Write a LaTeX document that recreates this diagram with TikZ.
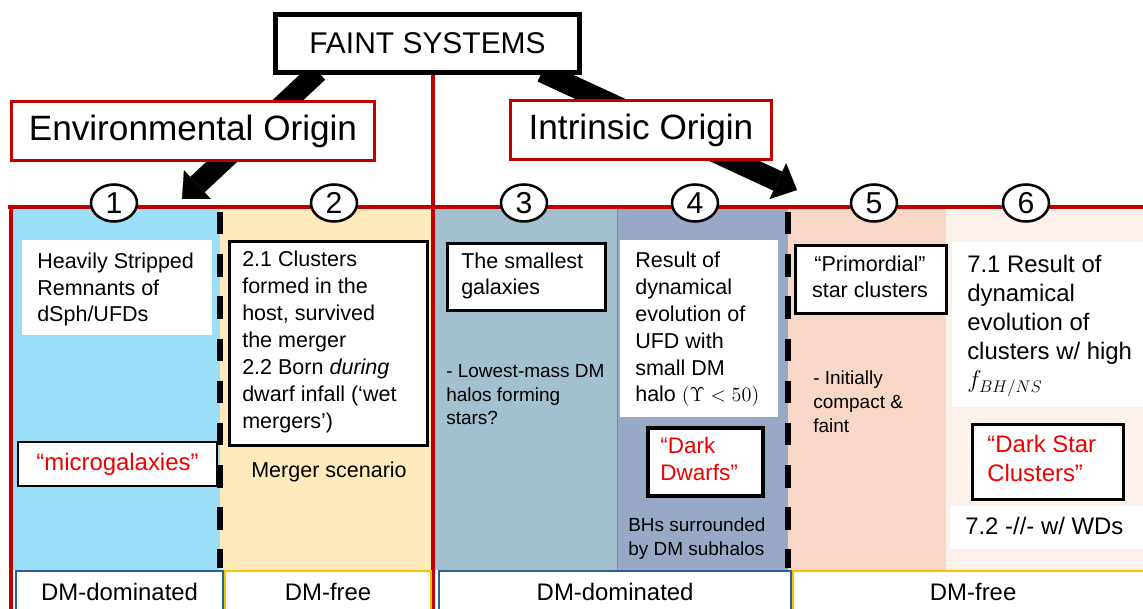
\documentclass[tikz,border=0pt]{standalone}
\usepackage{fontspec}
\setmainfont{Liberation Sans}
\usetikzlibrary{arrows.meta,shapes.geometric}

\pgfdeclarelayer{bg}
\pgfsetlayers{bg,main}

\definecolor{faintred}{RGB}{192,0,0}
\definecolor{quotered}{RGB}{238,0,0}
\definecolor{envblue}{RGB}{155,222,247}
\definecolor{mergeryellow}{RGB}{254,234,187}
\definecolor{galgrey}{RGB}{163,192,206}
\definecolor{dwarfgrey}{RGB}{153,168,196}
\definecolor{primpeach}{RGB}{248,215,199}
\definecolor{dscpeach}{RGB}{253,241,235}
\definecolor{dmblue}{RGB}{46,95,152}
\definecolor{dmgold}{RGB}{255,192,0}

\newcommand\setfs[2]{\fontsize{#1}{#2}\selectfont}

% multi-line texts sit on the baseline of their last line
\tikzset{
  boxsize/.style 2 args={minimum width=#1*0.025cm, minimum height=#2*0.025cm},
  txt/.style={anchor=base west, align=left, inner sep=0pt, font=\setfs{15.3}{19.1}},
  note/.style={txt, font=\setfs{13.5}{17}},
  bigtxt/.style={txt, font=\setfs{17}{20.6}},
  quoted/.style={text=quotered},
  card/.style={draw, line width=2pt, fill=white, inner sep=0pt},
  blank/.style={fill=white, inner sep=0pt},
  headbox/.style={draw, line width=3.5pt, fill=white, inner sep=0pt, font=\setfs{21.3}{25}},
  origin/.style={draw=faintred, line width=2.2pt, fill=white, inner sep=0pt, font=\setfs{25}{30}},
  numdisc/.style={ellipse, draw, line width=1.8pt, fill=white, inner sep=0pt, boxsize={46}{37}, font=\setfs{21.5}{25}},
  dmlabel/.style={line width=1.6pt, fill=white, anchor=north west, inner sep=0pt, font=\setfs{17}{20}},
  redline/.style={faintred, line width=2.8pt},
  split/.style={line width=4pt, dash pattern=on 16pt off 14pt},
  bigarrow/.style={line width=15pt, -{Triangle[length=15pt,width=28pt,line width=0.1pt]}},
}

\begin{document}
\begin{tikzpicture}[x=0.025cm, y=-0.025cm]
\useasboundingbox (0,0) rectangle (1143,609);

% headings
\node[headbox, boxsize={304}{58}] (title) at (427.5,43.5) {FAINT SYSTEMS};
\node[origin, boxsize={363}{59}] (env) at (193,131) {Environmental Origin};
\node[origin, boxsize={261}{59}] (intr) at (641,130) {Intrinsic Origin};

% numbered columns
\foreach \cx/\n in {114/1,334/2,524/3,695/4,874/5,1026/6}
  \node[numdisc] (c\n) at (\cx,203) {\n};

% column 1
\node[blank, anchor=north west, boxsize={190}{95}] (box1) at (22,240) {};
\node[txt] (txt1) at (37,322) {Heavily Stripped\\Remnants of\\dSph/UFDs};
\node[card, boxsize={199}{44}, font=\setfs{17}{20}, text=quotered] (micro) at (117.5,464) {“microgalaxies”};

% column 2
\node[card, anchor=north west, boxsize={198}{204}] (box2) at (228,240) {};
\node[txt] (txt2) at (242,428) {2.1 Clusters\\formed in the\\host, survived\\the merger\\2.2 Born \textit{during}\\dwarf infall (‘wet\\mergers’)};
\node[txt, anchor=base] (merger) at (329,477) {Merger scenario};

% column 3
\node[card, anchor=north west, boxsize={158}{67}] (box3) at (446,242) {};
\node[txt] (txt3) at (461,295) {The smallest\\galaxies};
\node[note] (note3) at (446,425) {- Lowest-mass DM\\halos forming\\stars?};

% column 4
\node[blank, anchor=north west, boxsize={158}{177}] (box4) at (620,240) {};
\node[txt] (txt4) at (635,402) {Result of\\dynamical\\evolution of\\UFD with\\small DM\\halo $(\Upsilon<50)$};
\node[card, line width=2.5pt, anchor=north west, boxsize={115}{68}] (dwarfbox) at (646,426) {};
\node[txt, quoted, font=\setfs{16}{19.2}] (dwarftxt) at (660,480) {“Dark\\Dwarfs”};
\node[note] (note4) at (628,555) {BHs surrounded\\by DM subhalos};

% column 5
\node[card, anchor=north west, boxsize={151}{68}] (box5) at (794,244) {};
\node[txt, anchor=base, align=center] (txt5) at (870,298) {“Primordial”\\star clusters};
\node[note] (note5) at (813,432) {- Initially\\compact \&\\faint};

% column 6
\node[blank, anchor=north west, boxsize={200}{165}] (box6) at (952,242) {};
\node[bigtxt] (txt6) at (967,388) {7.1 Result of\\dynamical\\evolution of\\clusters w/ high\\$f_{BH/NS}$};
\node[card, anchor=north west, boxsize={151}{75}] (dscbox) at (971,423) {};
\node[bigtxt, quoted] (dsctxt) at (987,481) {“Dark Star\\Clusters”};
\node[blank, anchor=north west, boxsize={200}{43}] (box7) at (950,506) {};
\node[bigtxt] (txt7) at (965,534) {7.2 -//- w/ WDs};

% DM content along the bottom
\node[dmlabel, draw=dmblue, boxsize={207}{42}] (dm1) at (15,570) {DM-dominated};
\node[dmlabel, draw=dmgold, boxsize={206}{42}] (free1) at (224,570) {DM-free};
\node[dmlabel, draw=dmblue, boxsize={352}{42}] (dm2) at (438,570) {DM-dominated};
\node[dmlabel, draw=dmgold, boxsize={360}{42}] (free2) at (792,570) {DM-free};

\coordinate (envtip) at (182,199);
\coordinate (intrtip) at (797,190);

\begin{pgfonlayer}{bg}
  % column backgrounds
  \fill[envblue] (12,207) rectangle (220,570);
  \fill[mergeryellow] (220,207) rectangle (433,570);
  \fill[galgrey] (433,207) rectangle (617,570);
  \fill[dwarfgrey] (617,207) rectangle (788,570);
  \fill[primpeach] (788,207) rectangle (946,570);
  \fill[dscpeach] (946,207) rectangle (1143,570);
  \draw[dwarfgrey!80!black, thin] (617,207) -- (617,570);

  % red frame
  \draw[redline] (8,207) -- (1143,207);
  \draw[redline] (11,207) -- (11,609);
  \draw[redline] (433,72) -- (433,609);

  % dashed splits
  \draw[split] (220,212) -- (220,568);
  \draw[split] (788,212) -- (788,568);

  % origin arrows
  \draw[bigarrow] ([shift={(45,-3)}]title.south west) -- (envtip);
  \draw[bigarrow] ([shift={(-40,-3)}]title.south east) -- (intrtip);
\end{pgfonlayer}

\end{tikzpicture}
\end{document}
